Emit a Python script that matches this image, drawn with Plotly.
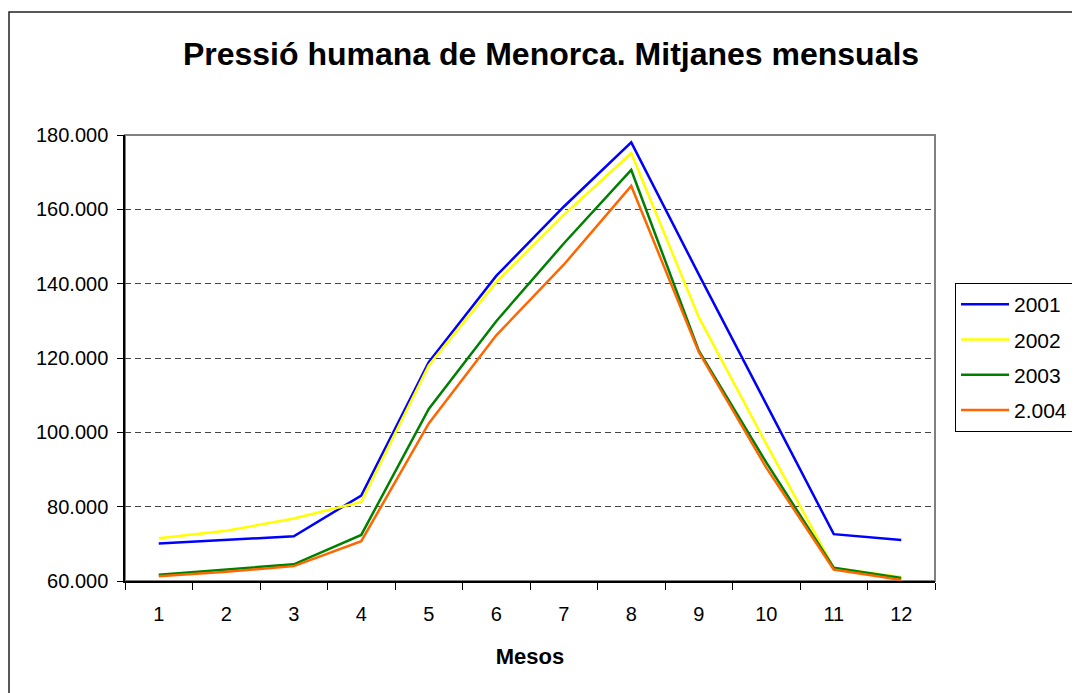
import plotly.graph_objects as go

months = ["1", "2", "3", "4", "5", "6", "7", "8", "9", "10", "11", "12"]
series_names = ["2001", "2002", "2003", "2.004"]
s2001 = [70060, 71100, 72050, 83000, 118900, 142100, 160700, 178000, 142500, 107600, 72600, 71000]
s2002 = [71500, 73500, 76800, 81300, 118000, 140400, 158500, 175100, 131000, 96900, 63500, 61100]
s2003 = [61700, 63050, 64500, 72400, 106300, 129900, 150800, 170600, 122000, 91900, 63600, 60800]
s2004 = [61250, 62500, 64000, 70700, 102400, 126100, 145100, 166300, 121600, 90500, 63100, 60300]
colors = ["#0000FF", "#FFFF00", "#008000", "#FF6600"]

OFF = 8  # default page body margin
W, H = 1080 - OFF, 693 - OFF
L, R, T, B = 125 - OFF, 935 - OFF, 135 - OFF, 581 - OFF

fig = go.Figure()
for name, vals, col in zip(series_names, [s2001, s2002, s2003, s2004], colors):
    fig.add_trace(go.Scatter(x=months, y=vals, name=name, mode="lines",
                             legendgroup=name,
                             line=dict(color=col, width=2.5)))

font_family = "Arial, Liberation Sans, sans-serif"

def px_x(p):
    return (p - OFF - L) / (R - L)

def px_y(p):
    return (B - (p - OFF)) / (B - T)

fig.update_layout(
    width=W, height=H,
    margin=dict(l=L, r=W - R, t=T, b=H - B, autoexpand=False),
    paper_bgcolor="white", plot_bgcolor="white",
    separators=",.",
    font=dict(family=font_family, size=20, color="black"),
    title=dict(text="<b>Pressió humana de Menorca. Mitjanes mensuals</b>",
               font=dict(size=32, family=font_family, color="black"),
               x=(551 - OFF) / W, xanchor="center", xref="container",
               y=1 - (54 - OFF) / H, yanchor="middle", yref="container"),
    showlegend=True,
    legend=dict(x=px_x(955), y=px_y(283), xanchor="left", yanchor="top",
                bordercolor="black", borderwidth=1, bgcolor="white",
                font=dict(size=21, family=font_family),
                tracegroupgap=5, itemwidth=48),
    xaxis=dict(type="category", tickson="boundaries", ticks="outside", ticklen=7,
               tickcolor="black", showgrid=False, showline=True, linecolor="black",
               linewidth=1.5, tickfont=dict(size=20), ticklabelstandoff=14,
               title=dict(text="<b>Mesos</b>", font=dict(size=22), standoff=25),
               range=[-0.5, 11.5], fixedrange=True),
    yaxis=dict(range=[60000, 180000], dtick=20000, tickformat=",d",
               ticks="outside", ticklen=6, tickcolor="black",
               showline=True, linecolor="black", linewidth=1.5,
               showgrid=True, gridcolor="#444444", griddash="6px,4px", gridwidth=1,
               zeroline=False, tickfont=dict(size=20), ticklabelstandoff=5,
               fixedrange=True),
    shapes=[
        dict(type="rect", xref="x domain", yref="y domain", x0=0, x1=1, y0=0, y1=1,
             line=dict(color="#808080", width=2), layer="below"),
        dict(type="rect", xref="paper", yref="paper",
             x0=px_x(9), x1=px_x(1100), y0=px_y(12), y1=px_y(710),
             line=dict(color="#222222", width=1.5), layer="below"),
    ],
)

fig.write_html("out.html")
